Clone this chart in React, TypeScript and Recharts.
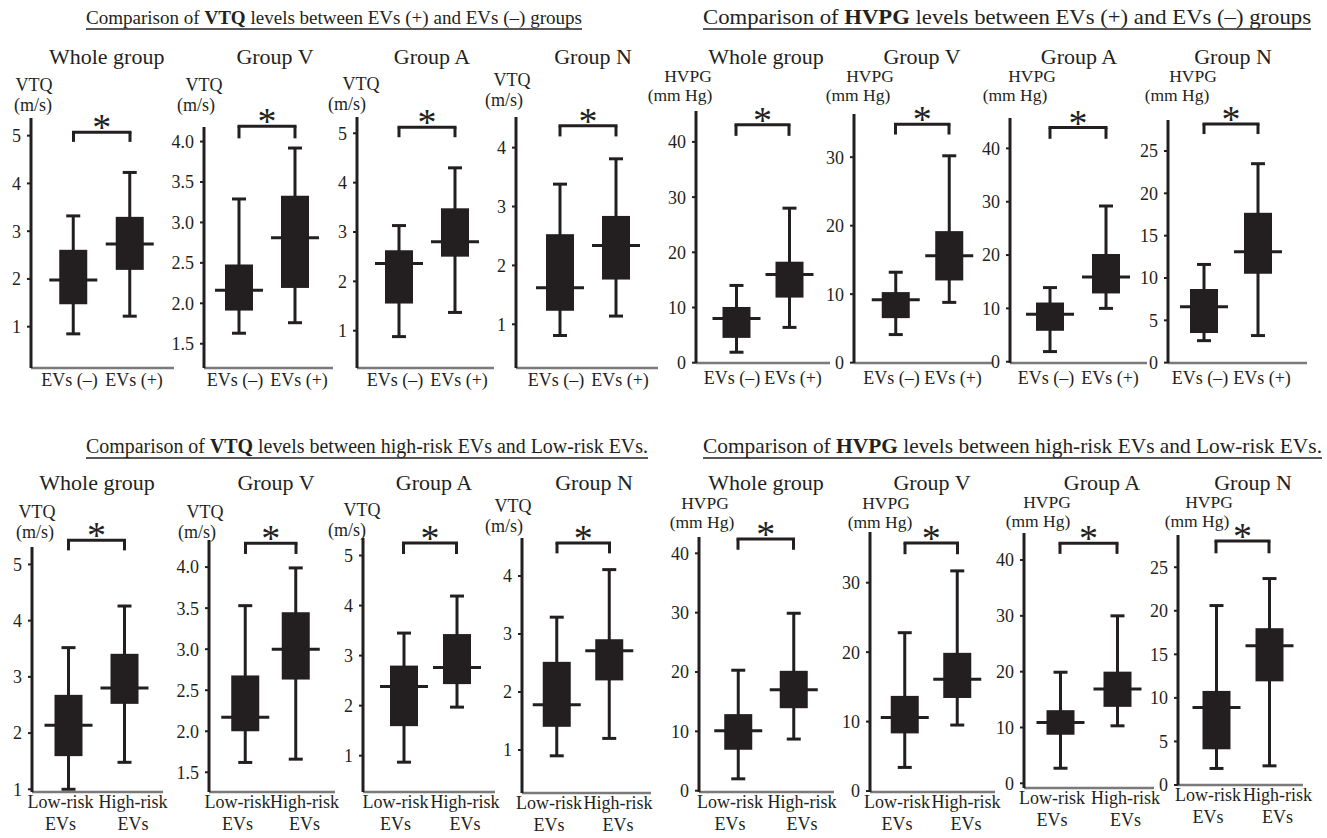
import { ComposedChart, Bar, XAxis, YAxis, ReferenceLine } from "recharts";

const INK = "#231f20";
const GRAY = "#7a7a7a";
const SERIF = '"Liberation Serif", "DejaVu Serif", serif';

const evGroups = ["EVs (–)", "EVs (+)"];
const riskGroups = ["Low-risk EVs", "High-risk EVs"];
const panelTitles = ["Whole group", "Group V", "Group A", "Group N"];

// box stats [min, Q1, median, Q3, max]; first box EVs(–) / low-risk, second EVs(+) / high-risk
const vtqEvWhole = [[0.85, 1.47, 1.98, 2.61, 3.32], [1.22, 2.19, 2.73, 3.3, 4.23]];
const vtqEvV = [[1.63, 1.91, 2.16, 2.48, 3.29], [1.76, 2.19, 2.81, 3.33, 3.92]];
const vtqEvA = [[0.88, 1.55, 2.36, 2.63, 3.13], [1.37, 2.5, 2.8, 3.48, 4.3]];
const vtqEvN = [[0.81, 1.23, 1.62, 2.53, 3.38], [1.14, 1.76, 2.34, 2.84, 3.81]];

const hvpgEvWhole = [[1.9, 4.5, 8.0, 10.1, 14.0], [6.4, 11.8, 16.0, 18.3, 28.0]];
const hvpgEvV = [[4.1, 6.5, 9.2, 10.3, 13.2], [8.8, 12.0, 15.6, 19.2, 30.2]];
const hvpgEvA = [[1.9, 5.8, 8.9, 11.1, 13.9], [10.0, 12.8, 15.9, 20.2, 29.2]];
const hvpgEvN = [[2.6, 3.5, 6.6, 8.7, 11.6], [3.2, 10.5, 13.1, 17.7, 23.5]];

const vtqRiskWhole = [[1.0, 1.59, 2.14, 2.68, 3.52], [1.48, 2.52, 2.8, 3.41, 4.26]];
const vtqRiskV = [[1.62, 2.0, 2.17, 2.68, 3.53], [1.66, 2.63, 3.0, 3.45, 3.99]];
const vtqRiskA = [[0.87, 1.59, 2.38, 2.8, 3.45], [1.97, 2.43, 2.76, 3.43, 4.19]];
const vtqRiskN = [[0.9, 1.4, 1.78, 2.52, 3.29], [1.2, 2.2, 2.71, 2.91, 4.11]];

const hvpgRiskWhole = [[2.0, 6.9, 10.1, 12.9, 20.3], [8.7, 13.9, 17.0, 20.2, 29.9]];
const hvpgRiskV = [[3.4, 8.3, 10.6, 13.7, 22.8], [9.5, 13.4, 16.1, 19.9, 31.7]];
const hvpgRiskA = [[2.7, 8.7, 10.9, 13.1, 19.9], [10.3, 13.7, 16.9, 20.0, 30.0]];
const hvpgRiskN = [[1.9, 4.1, 8.9, 10.8, 20.6], [2.2, 11.9, 16.0, 18.0, 23.7]];

const vtqTicks = [1, 2, 3, 4, 5];
const vtqTicksV = [1.5, 2, 2.5, 3, 3.5, 4];
const vtqTicksN = [1, 2, 3, 4];
const hvpgTicks = [0, 10, 20, 30, 40];
const hvpgTicksV = [0, 10, 20, 30];
const hvpgTicksN = [0, 5, 10, 15, 20, 25];

// significance brackets: [bar level, end of legs]
const vtqEvBrackets = [[5.07, 4.87], [4.19, 4.04], [5.12, 4.92], [4.37, 4.19]];
const hvpgEvBrackets = [[43.1, 41.1], [34.8, 33.3], [43.9, 41.8], [28.2, 27.0]];
const vtqRiskBrackets = [[5.43, 5.25], [4.29, 4.16], [5.25, 5.03], [4.57, 4.39]];
const hvpgRiskBrackets = [[42.4, 40.6], [35.7, 34.1], [43.0, 41.1], [28.0, 26.6]];

const sections = [
  { stats: [vtqEvWhole, vtqEvV, vtqEvA, vtqEvN], ticks: [vtqTicks, vtqTicksV, vtqTicks, vtqTicksN], brackets: vtqEvBrackets, groups: evGroups, unit: ["VTQ", "(m/s)"], labelGap: 18 },
  { stats: [hvpgEvWhole, hvpgEvV, hvpgEvA, hvpgEvN], ticks: [hvpgTicks, hvpgTicksV, hvpgTicks, hvpgTicksN], brackets: hvpgEvBrackets, groups: evGroups, unit: ["HVPG", "(mm Hg)"], labelGap: 21 },
  { stats: [vtqRiskWhole, vtqRiskV, vtqRiskA, vtqRiskN], ticks: [vtqTicks, vtqTicksV, vtqTicks, vtqTicksN], brackets: vtqRiskBrackets, groups: riskGroups, unit: ["VTQ", "(m/s)"], labelGap: 16 },
  { stats: [hvpgRiskWhole, hvpgRiskV, hvpgRiskA, hvpgRiskN], ticks: [hvpgTicks, hvpgTicksV, hvpgTicks, hvpgTicksN], brackets: hvpgRiskBrackets, groups: riskGroups, unit: ["HVPG", "(mm Hg)"], labelGap: 16 },
];

// layout: y-axis x, axis end x, plot top, plot bottom, box centres, y domain
const frames = [
  [31, 174, 118, 368, 73.5, 130, 0.135, 5.37],
  [204, 333, 127, 368, 239, 295, 1.2, 4.18],
  [357, 494, 117, 368, 399, 455, 0.244, 5.33],
  [516, 658, 117, 368, 560, 616, 0.258, 4.52],
  [696, 830, 111, 363, 736, 789, -0.05, 45.6],
  [854, 992, 114, 363, 895.5, 949, -0.05, 36.3],
  [1010, 1147, 118, 363, 1050, 1106, -0.24, 45.7],
  [1168, 1307, 120, 363, 1204, 1258, -0.04, 28.66],
  [32, 163, 547, 792, 68.5, 124.5, 0.952, 5.31],
  [209, 335, 540, 792, 245.5, 296, 1.26, 4.33],
  [363, 495, 538, 792, 403.5, 456.5, 0.274, 5.35],
  [522, 651, 538, 793, 557, 609.5, 0.259, 4.655],
  [699, 834, 537, 792, 738, 793.5, -0.22, 42.75],
  [870, 995, 532, 792, 905, 957.5, -0.14, 37.3],
  [1024, 1154, 533, 788, 1060, 1117, -0.84, 44.84],
  [1178, 1303, 535, 785, 1216, 1269, 0, 28.7],
];
const titlePos = [
  [106.7, 64], [275, 64], [432, 64], [593, 64], [766, 64], [922, 64], [1079, 64], [1233, 64],
  [97, 490], [276, 490], [434, 490], [594, 490], [766, 490], [932, 490], [1102, 490], [1253, 490],
];
// unit label: x of first line, x of second line, baseline of first line, line gap, font size
const unitPos = [
  [34, 33, 91, 20, 18], [204, 196, 91, 20, 18], [361, 347, 90, 20, 18], [512, 504, 86, 20, 18],
  [688, 680, 82, 19, 17.5], [870, 858, 82, 19, 17.5], [1032, 1015, 82, 19, 17.5], [1193, 1177, 82, 19, 17.5],
  [37, 35, 518, 20, 18], [205, 197, 518, 20, 18], [362, 347, 516, 20, 18], [513, 504, 512, 20, 18],
  [705, 702, 509, 19, 17.5], [886, 880, 509, 19, 17.5], [1047, 1038, 508, 19, 17.5], [1209, 1197, 508, 19, 17.5],
];
const headers = [
  { x: 86, y: 24, w: 496, size: 19, bold: "VTQ", rest: " levels between EVs (+) and EVs (–) groups" },
  { x: 703, y: 24, w: 608, size: 21, bold: "HVPG", rest: " levels between EVs (+) and EVs (–) groups" },
  { x: 86, y: 453, w: 562, size: 20, bold: "VTQ", rest: " levels between high-risk EVs and Low-risk EVs." },
  { x: 703, y: 453, w: 619, size: 21, bold: "HVPG", rest: " levels between high-risk EVs and Low-risk EVs." },
];

const ML = 50;
const MT = 50;
const MB = 60;
const MR = 30;

function BoxShape(props: any) {
  const { x, y, width, height, payload } = props;
  const top = Math.min(y, y + height);
  const h = Math.abs(height);
  const span = payload.max - payload.min || 1;
  const py = (v: number) => top + (h * (payload.max - v)) / span;
  const cx = x + width / 2;
  return (
    <g>
      <line x1={cx} x2={cx} y1={py(payload.max)} y2={py(payload.min)} stroke={INK} strokeWidth={3} />
      <line x1={cx - 7} x2={cx + 7} y1={py(payload.max)} y2={py(payload.max)} stroke={INK} strokeWidth={3} />
      <line x1={cx - 7} x2={cx + 7} y1={py(payload.min)} y2={py(payload.min)} stroke={INK} strokeWidth={3} />
      <rect x={cx - width / 2} y={py(payload.q3)} width={width} height={py(payload.q1) - py(payload.q3)} fill={INK} />
      <line x1={cx - width / 2 - 10} x2={cx + width / 2 + 10} y1={py(payload.median)} y2={py(payload.median)} stroke={INK} strokeWidth={3} />
    </g>
  );
}

function CatTick({ x, y, payload, index, two, gap }: any) {
  const label = String(payload.value);
  const lines = two ? label.split(" ") : [label];
  // labels sit a little wider apart than the boxes
  const shift = two ? (index === 0 ? -8 : 8.5) : index === 0 ? -4 : 4;
  const cx = x + shift;
  return (
    <text x={cx} y={y} textAnchor="middle" fill={INK} fontSize={18} fontFamily={SERIF}>
      {lines.map((l, i) => (
        <tspan key={i} x={cx} dy={i === 0 ? gap : 22}>
          {l}
        </tspan>
      ))}
    </text>
  );
}

const starLabel = (p: any) => {
  const vb = p.viewBox || {};
  return (
    <text x={vb.x + (vb.width || 0) / 2} y={vb.y + 8} textAnchor="middle" fontSize={38} fontFamily={SERIF} fill={INK}>
      *
    </text>
  );
};

function Panel({ stats, ticks, bracket, groups, frame, gap }: any) {
  const [ax, rx, top, bottom, c1, c2, lo, hi] = frame;
  const half = (c2 - c1) / 2;
  const padL = c1 - half - ax;
  const padR = rx - (c2 + half);
  const rows = groups.map((g: string, i: number) => ({
    name: g,
    min: stats[i][0],
    q1: stats[i][1],
    median: stats[i][2],
    q3: stats[i][3],
    max: stats[i][4],
  }));
  const two = groups === riskGroups;
  const step = ticks[1] - ticks[0];
  const seg = (a: any, b: any) => [a, b];
  return (
    <div style={{ position: "absolute", left: ax - ML, top: top - MT }}>
      <ComposedChart
        width={rx - ax + ML + MR}
        height={bottom - top + MT + MB}
        data={rows}
        margin={{ top: MT, right: MR, bottom: 0, left: 0 }}
        barCategoryGap={0}
      >
        <XAxis
          dataKey="name"
          height={MB}
          padding={{ left: padL, right: padR }}
          axisLine={{ stroke: GRAY, strokeWidth: 2.5 }}
          tickLine={false}
          tickSize={0}
          tickMargin={0}
          interval={0}
          tick={(p: any) => <CatTick {...p} two={two} gap={gap} />}
        />
        <YAxis
          type="number"
          width={ML}
          domain={[lo, hi]}
          ticks={ticks}
          allowDataOverflow
          axisLine={{ stroke: INK, strokeWidth: 3 }}
          tickLine={{ stroke: INK, strokeWidth: 2 }}
          tickSize={4}
          tickMargin={6}
          tick={{ fill: INK, fontSize: 18, fontFamily: SERIF }}
          tickFormatter={(v: number) => (step < 1 ? v.toFixed(1) : String(v))}
        />
        <Bar dataKey={(d: any) => [d.min, d.max]} barSize={28} shape={BoxShape} isAnimationActive={false} />
        <ReferenceLine
          segment={seg({ x: groups[0], y: bracket[0] }, { x: groups[1], y: bracket[0] })}
          stroke={INK}
          strokeWidth={3}
          strokeLinecap="square"
          ifOverflow="visible"
          label={starLabel}
        />
        <ReferenceLine
          segment={seg({ x: groups[0], y: bracket[0] }, { x: groups[0], y: bracket[1] })}
          stroke={INK}
          strokeWidth={3}
          ifOverflow="visible"
        />
        <ReferenceLine
          segment={seg({ x: groups[1], y: bracket[0] }, { x: groups[1], y: bracket[1] })}
          stroke={INK}
          strokeWidth={3}
          ifOverflow="visible"
        />
      </ComposedChart>
    </div>
  );
}

export default function App() {
  const panels: any[] = [];
  sections.forEach((s, si) => {
    for (let k = 0; k < 4; k++) {
      // top row: VTQ then HVPG panels; bottom row the same
      const idx = (si >= 2 ? 8 : 0) + (si % 2) * 4 + k;
      panels.push({ idx, s, k });
    }
  });
  return (
    <div style={{ position: "absolute", left: 0, top: 0, width: 1327, height: 838, background: "#fff", overflow: "hidden" }}>
      {panels.map(({ idx, s, k }) => (
        <Panel
          key={idx}
          stats={s.stats[k]}
          ticks={s.ticks[k]}
          bracket={s.brackets[k]}
          groups={s.groups}
          frame={frames[idx]}
          gap={s.labelGap}
        />
      ))}
      <svg width={1327} height={838} style={{ position: "absolute", left: 0, top: 0, pointerEvents: "none" }}>
        {headers.map((h, i) => (
          <g key={i}>
            <text x={h.x} y={h.y} fontSize={h.size} fontFamily={SERIF} fill={INK} textLength={h.w} lengthAdjust="spacingAndGlyphs">
              Comparison of <tspan fontWeight="bold">{h.bold}</tspan>
              {h.rest}
            </text>
            <line x1={h.x} x2={h.x + h.w} y1={h.y + 5} y2={h.y + 5} stroke={INK} strokeWidth={1.4} />
          </g>
        ))}
        {panels.map(({ idx, s, k }) => {
          const [ux1, ux2, uy, ugap, usize] = unitPos[idx];
          return (
            <g key={idx}>
              <text x={titlePos[idx][0]} y={titlePos[idx][1]} textAnchor="middle" fontSize={22} fontFamily={SERIF} fill={INK}>
                {panelTitles[k]}
              </text>
              <text x={ux1} y={uy} textAnchor="middle" fontSize={usize} fontFamily={SERIF} fill={INK}>
                {s.unit[0]}
              </text>
              <text x={ux2} y={uy + ugap} textAnchor="middle" fontSize={usize} fontFamily={SERIF} fill={INK}>
                {s.unit[1]}
              </text>
            </g>
          );
        })}
      </svg>
    </div>
  );
}
